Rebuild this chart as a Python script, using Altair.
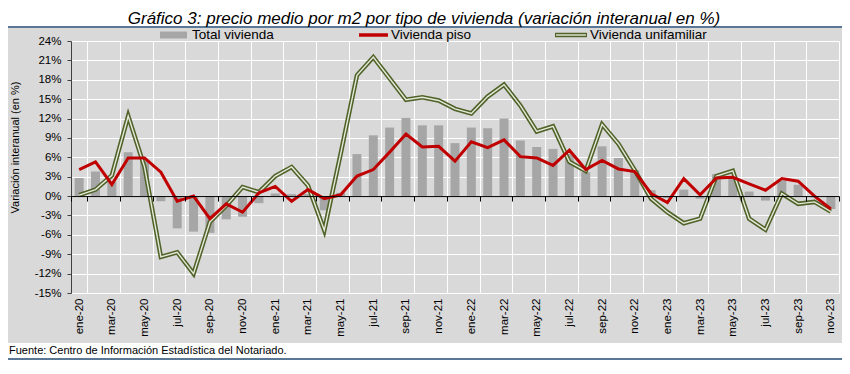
import altair as alt
import pandas as pd

abrev = ["ene", "feb", "mar", "abr", "may", "jun", "jul", "ago", "sep", "oct", "nov", "dic"]
anios = ["20", "21", "22", "23"]
meses = [f"{m}-{a}" for a in anios for m in abrev][:47]

total_vivienda = [2.8, 3.8, 2.2, 6.8, 5.5, -0.8, -5.0, -5.5, -5.7, -3.6, -3.2, -1.1,
                  0.4, 0.3, 0.3, -2.2, 0.5, 6.5, 9.4, 10.6, 12.1, 10.95, 10.95, 8.2,
                  10.6, 10.5, 12.0, 8.6, 7.6, 7.3, 6.5, 3.7, 7.7, 5.9, 4.0, 0.9,
                  -0.3, 1.0, -0.4, 3.4, 2.7, 0.7, -0.7, 2.4, 1.75, -0.2, -2.0]
vivienda_piso = [4.1, 5.3, 1.8, 5.9, 5.9, 3.7, -0.8, 0.0, -3.5, -1.2, -2.5, 0.5,
                 1.5, -0.8, 1.0, -0.4, 0.2, 3.1, 4.1, 6.8, 9.6, 7.6, 7.7, 5.4,
                 8.4, 7.5, 8.7, 6.1, 5.9, 4.75, 7.1, 4.1, 5.5, 4.2, 3.8, 0.4,
                 -1.0, 2.7, 0.2, 2.8, 2.9, 1.9, 0.9, 2.7, 2.3, 0.0, -2.0]
vivienda_unifamiliar = [0.15, 1.0, 3.2, 12.4, 4.5, -9.4, -8.7, -12.0, -4.0, -1.5, 1.4, 0.6,
                        3.1, 4.5, 1.65, -5.3, 6.5, 18.7, 21.5, 18.2, 14.9, 15.3, 14.8, 13.5,
                        12.8, 15.4, 17.25, 14.0, 10.0, 10.8, 5.3, 3.9, 11.1, 8.1, 4.0, -0.4,
                        -2.5, -4.2, -3.5, 3.1, 3.9, -3.5, -5.2, 0.4, -1.2, -0.9, -2.4]

etiquetas_x = meses[::2]
ticks_y = list(range(-15, 25, 3))
series = ["Total vivienda", "Vivienda piso", "Vivienda unifamiliar"]
titulo = "Gráfico 3: precio medio por m2 por tipo de vivienda (variación interanual en %)"
fuente = "Fuente: Centro de Información Estadística del Notariado."
titulo_y = "Variación interanual (en %)"

df = pd.DataFrame({"mes": meses, "total": total_vivienda,
                   "piso": vivienda_piso, "unif": vivienda_unifamiliar})
uno = pd.DataFrame({"k": [0]})

W, H = 768, 252
Y_MIN, Y_MAX = -15, 24
zero_offset = -H * (0 - Y_MIN) / (Y_MAX - Y_MIN)

FONT = "Liberation Sans"
GRAY_BAR = "#a6a6a6"
RED = "#c00000"
OLIVE = "#4f6228"
INNER = "#e6e9da"
BLUE = "#5a7896"

xscale = alt.Scale(domain=meses, paddingInner=0, paddingOuter=0)
yscale = alt.Scale(domain=[Y_MIN, Y_MAX], nice=False)

yaxis = alt.Axis(values=ticks_y, labelExpr="datum.value + '%'", labelFont=FONT,
                 labelFontSize=11.5, labelColor="black", labelPadding=6,
                 domainColor="#404040", tickColor="#404040", tickSize=4,
                 grid=True, gridColor="white", gridWidth=1,
                 title=titulo_y, titleFont=FONT, titleFontSize=11,
                 titleFontWeight="normal", titleColor="black",
                 titleX=-56, titleY=106, titleAngle=270,
                 titleAlign="center", titleBaseline="middle")

xaxis_bottom = alt.Axis(orient="bottom", values=etiquetas_x, tickBand="extent",
                        ticks=False, domain=False, grid=True, gridColor="white",
                        gridWidth=1, labelAngle=-90, labelFont=FONT, labelFontSize=11.5,
                        labelColor="black", labelPadding=5)

xaxis_zero = alt.Axis(orient="bottom", offset=zero_offset, values=etiquetas_x,
                      tickBand="extent", tickExtra=False, labels=False, grid=False,
                      domainColor="black", domainWidth=1, tickColor="black",
                      tickSize=5, zindex=1)

bars = alt.Chart(df).mark_bar(color=GRAY_BAR, width=alt.RelativeBandSize(0.55)).encode(
    x=alt.X("mes:N", scale=xscale, axis=xaxis_bottom, title=None),
    y=alt.Y("total:Q", scale=yscale, axis=yaxis),
    y2=alt.datum(0),
)

uni_outer = alt.Chart(df).mark_line(color=OLIVE, strokeWidth=4.5).encode(
    x=alt.X("mes:N", scale=xscale, bandPosition=0.5, axis=None),
    y=alt.Y("unif:Q", scale=yscale, axis=yaxis),
)
uni_inner = alt.Chart(df).mark_line(color=INNER, strokeWidth=1.4).encode(
    x=alt.X("mes:N", scale=xscale, bandPosition=0.5, axis=None),
    y=alt.Y("unif:Q", scale=yscale, axis=yaxis),
)
piso = alt.Chart(df).mark_line(color=RED, strokeWidth=3).encode(
    x=alt.X("mes:N", scale=xscale, bandPosition=0.5, axis=xaxis_zero, title=None),
    y=alt.Y("piso:Q", scale=yscale, axis=yaxis),
)

# white strips outside the grey panel, title and source
top_strip = alt.Chart(uno).mark_rect(color="white").encode(
    x=alt.value(-63), x2=alt.value(771), y=alt.value(-33), y2=alt.value(-14))
bottom_strip = alt.Chart(uno).mark_rect(color="white").encode(
    x=alt.value(-63), x2=alt.value(771), y=alt.value(302), y2=alt.value(319))
top_line = alt.Chart(uno).mark_rule(color=BLUE, strokeWidth=2).encode(
    x=alt.value(-63), x2=alt.value(771), y=alt.value(-14))
bottom_line = alt.Chart(uno).mark_rule(color=BLUE, strokeWidth=2).encode(
    x=alt.value(-63), x2=alt.value(771), y=alt.value(318))
title_text = alt.Chart(uno).mark_text(
    text=titulo, font=FONT, fontSize=17, fontStyle="italic", align="center",
    baseline="alphabetic", color="black").encode(x=alt.value(353), y=alt.value(-17))
source_text = alt.Chart(uno).mark_text(
    text=fuente, font=FONT, fontSize=11, align="left", baseline="middle",
    color="black").encode(x=alt.value(-62), y=alt.value(310))

# legend
leg_y = -6
leg_bar = alt.Chart(uno).mark_rect(color=GRAY_BAR).encode(
    x=alt.value(89), x2=alt.value(116), y=alt.value(leg_y - 3.5), y2=alt.value(leg_y + 3.5))
leg_red = alt.Chart(uno).mark_rule(color=RED, strokeWidth=3.5).encode(
    x=alt.value(288), x2=alt.value(317), y=alt.value(leg_y))
leg_green_o = alt.Chart(uno).mark_rule(color=OLIVE, strokeWidth=4.5).encode(
    x=alt.value(484), x2=alt.value(516), y=alt.value(leg_y))
leg_green_i = alt.Chart(uno).mark_rule(color=INNER, strokeWidth=1.4).encode(
    x=alt.value(485), x2=alt.value(515), y=alt.value(leg_y))
leg_texts = [
    alt.Chart(uno).mark_text(text=name, font=FONT, fontSize=13.5, align="left",
                             baseline="middle", color="black").encode(
        x=alt.value(xp), y=alt.value(leg_y))
    for name, xp in zip(series, [121, 320, 519])
]

chart = alt.layer(
    top_strip, bottom_strip, top_line, bottom_line, title_text, source_text,
    bars, uni_outer, uni_inner, piso,
    leg_bar, leg_red, leg_green_o, leg_green_i, *leg_texts,
).resolve_axis(x="independent").properties(
    width=W, height=H,
    padding={"left": 63, "top": 33, "right": 3, "bottom": 67},
    autosize=alt.AutoSizeParams(type="none"),
    background="#d9d9d9",
).configure_view(stroke="transparent")

chart.save("out.html", embed_options={"renderer": "svg", "actions": False})
